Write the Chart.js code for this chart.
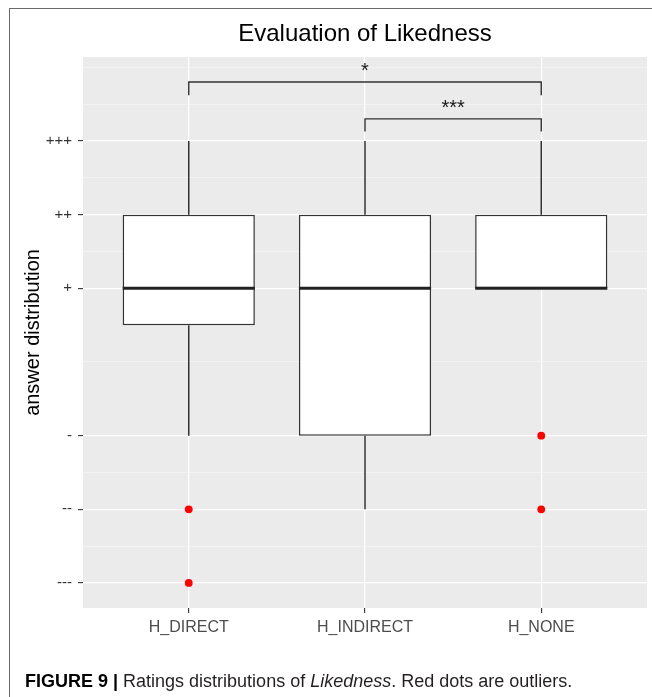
<!DOCTYPE html>
<html>
<head>
<meta charset="utf-8">
<title>Evaluation of Likedness</title>
<script src="https://cdn.jsdelivr.net/npm/chart.js@4.4.1/dist/chart.umd.min.js"></script>
<style>
  html, body { margin: 0; padding: 0; background: #fff; overflow: hidden; }
  #frame {
    position: absolute; left: 9px; top: 8px; width: 700px; height: 700px;
    border-left: 1px solid #6b6b6b; border-top: 1px solid #6b6b6b;
  }
  #chart-box { position: absolute; left: 0; top: 0; }
  #caption {
    position: absolute; left: 25px; top: 672px;
    font: 18px "Liberation Sans", Arial, sans-serif; line-height: 18px;
    color: #231f20; white-space: nowrap;
  }
  #caption b { color: #000; }
</style>
</head>
<body>
<div id="frame"></div>
<canvas id="chart-box" width="652" height="697"></canvas>
<div id="caption"><b>FIGURE 9 |</b> Ratings distributions of <i>Likedness</i>. Red dots are outliers.</div>

<script>
// categories (x positions 0, 1, 2)
const categories = ['H_DIRECT', 'H_INDIRECT', 'H_NONE'];

// box plot statistics, +++ = 3 ... --- = -3
const whiskerLow  = [-1, -2, 1];
const q1          = [0.5, -1, 1];
const median      = [1, 1, 1];
const q3          = [2, 2, 2];
const whiskerHigh = [3, 3, 3];

// outliers (red dots)
const outlierCat = [0, 0, 2, 2];
const outlierVal = [-2, -3, -1, -2];

// y ticks
const yTickValues = [3, 2, 1, -1, -2, -3];
const yTickLabels = ['+++', '++', '+', '-', '--', '---'];
const yMinorValues = [4, 3.5, 2.5, 1.5, 0, -1.5, -2.5];

// significance brackets
const bracketFrom  = [0, 1];
const bracketTo    = [2, 2];
const bracketTop   = [3.8, 3.3];
const bracketEnd   = [3.62, 3.13];
const bracketLabel = ['*', '***'];

const FONT = '"Liberation Sans", Arial, Helvetica, sans-serif';

// whisker segments, null breaks the line between them
var whiskerData = [];
for (let i = 0; i < categories.length; i++) {
  whiskerData.push({ x: i, y: q3[i] }, { x: i, y: whiskerHigh[i] }, { x: i, y: null });
  if (whiskerLow[i] < q1[i]) {
    whiskerData.push({ x: i, y: whiskerLow[i] }, { x: i, y: q1[i] }, { x: i, y: null });
  }
}

const isMajor = v => yTickValues.indexOf(v) !== -1;

// grey panel behind the grid
const panelBg = {
  id: 'panelBg',
  beforeDraw(chart) {
    const { ctx, chartArea: a } = chart;
    ctx.save();
    ctx.fillStyle = '#ebebeb';
    ctx.fillRect(a.left, a.top, a.right - a.left, a.bottom - a.top);
    ctx.restore();
  }
};

// median lines and significance brackets
const boxExtras = {
  id: 'boxExtras',
  afterDatasetsDraw(chart) {
    const ctx = chart.ctx;
    const xs = chart.scales.x, ys = chart.scales.y;
    const meta = chart.getDatasetMeta(1);
    ctx.save();
    ctx.strokeStyle = '#222';
    ctx.lineWidth = 3;
    meta.data.forEach((bar, i) => {
      const y = ys.getPixelForValue(median[i]);
      ctx.beginPath();
      ctx.moveTo(bar.x - bar.width / 2, y);
      ctx.lineTo(bar.x + bar.width / 2, y);
      ctx.stroke();
    });

    ctx.lineWidth = 1.4;
    ctx.strokeStyle = '#333';
    ctx.fillStyle = '#1a1a1a';
    ctx.font = '20px ' + FONT;
    ctx.textAlign = 'center';
    ctx.textBaseline = 'alphabetic';
    for (let i = 0; i < bracketFrom.length; i++) {
      const x1 = xs.getPixelForValue(bracketFrom[i]);
      const x2 = xs.getPixelForValue(bracketTo[i]);
      const yt = ys.getPixelForValue(bracketTop[i]);
      const ye = ys.getPixelForValue(bracketEnd[i]);
      ctx.beginPath();
      ctx.moveTo(x1, ye);
      ctx.lineTo(x1, yt);
      ctx.lineTo(x2, yt);
      ctx.lineTo(x2, ye);
      ctx.stroke();
      ctx.fillText(bracketLabel[i], (x1 + x2) / 2, yt - 5);
    }
    ctx.restore();
  }
};

new Chart(document.getElementById('chart-box'), {
  type: 'bar',
  data: {
    datasets: [
      {
        type: 'line',
        label: 'whiskers',
        data: whiskerData,
        borderColor: '#333',
        borderWidth: 1.5,
        pointRadius: 0,
        spanGaps: false,
        order: 3
      },
      {
        type: 'bar',
        label: 'box',
        data: categories.map((c, i) => ({ x: i, y: [q1[i], q3[i]] })),
        backgroundColor: '#ffffff',
        borderColor: '#333',
        borderWidth: 1.5,
        borderSkipped: false,
        categoryPercentage: 1,
        barPercentage: 0.75,
        order: 2
      },
      {
        type: 'line',
        label: 'outliers',
        data: outlierCat.map((c, i) => ({ x: c, y: outlierVal[i] })),
        showLine: false,
        pointRadius: 3.9,
        pointBackgroundColor: '#ff0000',
        pointBorderWidth: 0,
        order: 1
      }
    ]
  },
  options: {
    responsive: false,
    animation: false,
    layout: { padding: { left: 15, right: 5, top: 0, bottom: 0 } },
    plugins: {
      legend: { display: false },
      tooltip: { enabled: false },
      title: {
        display: true,
        text: 'Evaluation of Likedness',
        fullSize: false,
        color: '#000',
        font: { family: FONT, size: 24, weight: 'normal' },
        padding: { top: 20, bottom: 8.2 }
      }
    },
    scales: {
      x: {
        type: 'linear',
        offset: false,
        min: -0.6,
        max: 2.6,
        afterBuildTicks: scale => { scale.ticks = categories.map((c, i) => ({ value: i })); },
        afterFit: scale => { scale.height = 89; },
        border: { display: false },
        grid: {
          offset: false,
          color: '#ffffff',
          lineWidth: 1.2,
          tickColor: '#333',
          tickLength: 5,
          tickWidth: 1.1
        },
        ticks: {
          autoSkip: false,
          maxRotation: 0,
          padding: 5,
          color: '#4d4d4d',
          font: { family: FONT, size: 16 },
          callback: v => categories[v]
        }
      },
      y: {
        min: -3.34,
        max: 4.14,
        afterBuildTicks: scale => {
          scale.ticks = yTickValues.concat(yMinorValues).sort((a, b) => b - a).map(v => ({ value: v }));
        },
        afterFit: scale => { scale.width = 68; },
        border: { display: false },
        title: {
          display: true,
          text: 'answer distribution',
          color: '#000',
          font: { family: FONT, size: 20 },
          padding: { top: 6, bottom: 0 }
        },
        grid: {
          color: ctx => isMajor(ctx.tick.value) ? '#ffffff' : '#f7f7f7',
          lineWidth: ctx => isMajor(ctx.tick.value) ? 1.2 : 0.7,
          tickColor: ctx => isMajor(ctx.tick.value) ? '#333' : 'rgba(0,0,0,0)',
          tickLength: 5,
          tickWidth: 1.1
        },
        ticks: {
          autoSkip: false,
          padding: 6,
          color: '#333',
          font: { family: FONT, size: 15 },
          callback: v => {
            const k = yTickValues.indexOf(v);
            return k === -1 ? '' : yTickLabels[k];
          }
        }
      }
    }
  },
  plugins: [panelBg, boxExtras]
});
</script>
</body>
</html>
